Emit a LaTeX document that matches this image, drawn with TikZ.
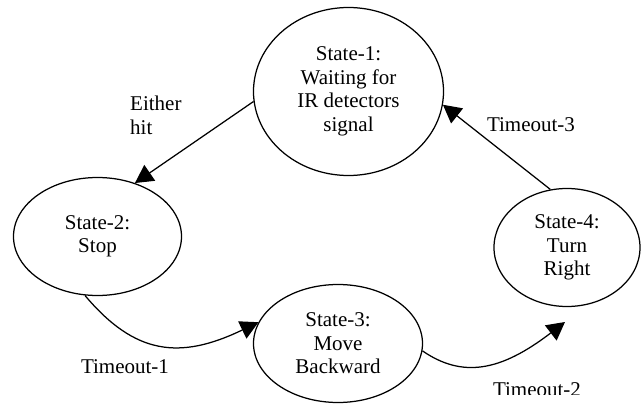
\documentclass[tikz,border=0pt]{standalone}
\usepackage{fontspec}
\setmainfont{Liberation Serif}
\usetikzlibrary{shapes.geometric,arrows.meta}
\begin{document}
\begin{tikzpicture}[x=1pt,y=-1pt,
  state/.style={ellipse, draw, line width=1.25pt, inner sep=0pt, align=center,
                font=\fontsize{21}{23.5}\selectfont},
  lbl/.style={font=\fontsize{21}{24}\selectfont, inner sep=0pt},
  conn/.style={line width=1.25pt, -{Triangle[length=18pt,width=19pt]}}]
\useasboundingbox (0,0) rectangle (641,404);

% states
\node[state, minimum width=190pt, minimum height=168pt] (s1) at (348.5,91.5)
  {State-1:\\Waiting for\\IR detectors\\signal};
\node[state, minimum width=168pt, minimum height=118pt] (s2) at (97.5,236.5)
  {State-2:\\Stop};
\node[state, minimum width=169pt, minimum height=118pt] (s3) at (338,343.5)
  {State-3:\\Move\\Backward};
\node[state, minimum width=146pt, minimum height=118pt] (s4) at (567,247.5)
  {State-4:\\Turn\\Right};

% transitions
\draw[conn] (s1.186) -- (s2.55);
\draw[conn] (s2.258) .. controls (135,355) and (180,360) .. (s3.165);
\coordinate (t2tip) at (565,322);
\draw[conn] (s3.355) .. controls (462,378) and (500,372) .. (t2tip);
\draw[conn] (s4.106) -- (s1.352);

% transition labels
\node[lbl, anchor=west, align=left] (either) at (130,115) {Either\\hit};
\node[lbl] (t1) at (125,367) {Timeout-1};
\begin{scope}
  \clip (400,300) rectangle (641,394);
  \node[lbl] (t2) at (537,390) {Timeout-2};
\end{scope}
\node[lbl] (t3) at (531,125) {Timeout-3};
\end{tikzpicture}
\end{document}
